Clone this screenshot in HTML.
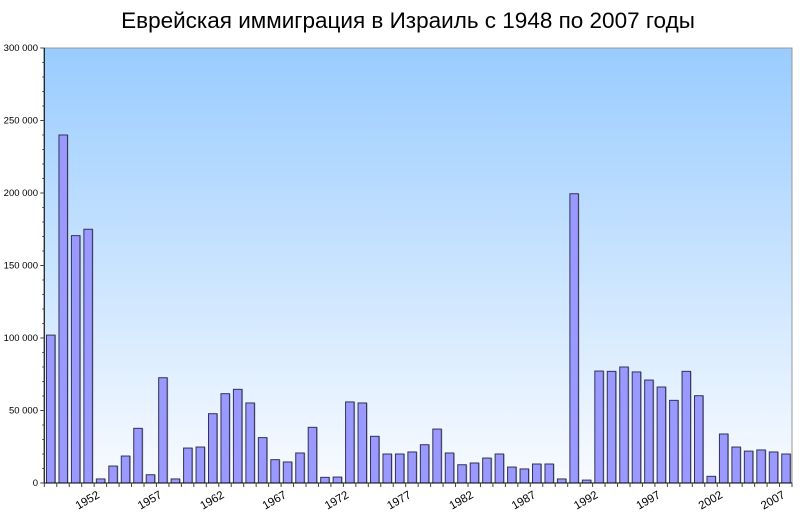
<!DOCTYPE html>
<html><head><meta charset="utf-8"><style>
body{margin:0;background:#fff;width:800px;height:517px;overflow:hidden;font-family:"Liberation Sans","DejaVu Sans",sans-serif}
</style></head><body>
<svg id="chart" width="800" height="517" xmlns="http://www.w3.org/2000/svg">
<defs><linearGradient id="bg" x1="0" y1="0" x2="0" y2="1"><stop offset="0" stop-color="#99ccff"/><stop offset="1" stop-color="#f9fbff"/></linearGradient></defs>
<text x="408" y="28" text-anchor="middle" font-size="22.5" fill="#000">Еврейская иммиграция в Израиль с 1948 по 2007 годы</text>
<rect x="44" y="48" width="748" height="435" fill="url(#bg)" stroke="#999" stroke-width="1"/>
<g id="bars"></g><g id="axes"></g>
</svg>
<script>
const years=[];for(let y=1948;y<=2007;y++)years.push(y);
const values=[102000,240000,170600,175000,2800,11700,18600,37700,5700,72600,2800,24100,24800,47800,61600,64600,55200,31300,16100,14500,20700,38400,3900,4100,55900,55200,32200,20000,20000,21400,26400,37200,20700,12600,13800,17200,20000,11000,9700,13100,13100,2800,199500,2000,77200,77000,80000,76600,71000,66200,57000,77000,60200,4600,33800,24800,22000,22800,21400,20000];
const yTicks=[0,50000,100000,150000,200000,250000,300000];
const yTickLabels=["0","50 000","100 000","150 000","200 000","250 000","300 000"];
const xLabelYears=[1952,1957,1962,1967,1972,1977,1982,1987,1992,1997,2002,2007];
const NS="http://www.w3.org/2000/svg";
const X0=44.3,X1=792,Y0=483,Y1=48,YMAX=300000;
const slot=(X1-X0)/years.length;
const yScale=v=>Y0-(v/YMAX)*(Y0-Y1);
const xScale=i=>X0+i*slot;
function mk(tag,attrs,parent){const e=document.createElementNS(NS,tag);for(const k in attrs)e.setAttribute(k,attrs[k]);parent.appendChild(e);return e;}
const bars=document.getElementById('bars'),axes=document.getElementById('axes');
values.forEach((v,i)=>{
  const x=xScale(i)+2.2,y=yScale(v),h=Y0-y;
  const s=mk('rect',{x:x+1,y:y,width:8.5,height:h,fill:'#a0a0b0'},bars);
  
  
  const r=mk('rect',{x:x,y:y,width:8.5,height:h,fill:'#9999ff',stroke:'#333355','stroke-width':1},bars);
  
  
});
const ya=mk('line',{x1:X0,y1:Y1,x2:X0,y2:Y0,stroke:'#000'},axes);


const xa=mk('line',{x1:X0,y1:Y0,x2:X1,y2:Y0,stroke:'#000'},axes);


for(let v=0;v<=YMAX;v+=10000){mk('line',{x1:X0-(v%50000?2:4),y1:yScale(v),x2:X0,y2:yScale(v),stroke:'#444'},axes);}
yTicks.forEach((v,i)=>{
  const t=mk('text',{x:38,y:yScale(v)+3,'text-anchor':'end','font-size':9.5,fill:'#000'},axes);
  t.textContent=yTickLabels[i];
  
  
});
for(let i=0;i<=years.length;i++){mk('line',{x1:xScale(i),y1:Y0,x2:xScale(i),y2:Y0+4,stroke:'#444'},axes);}
xLabelYears.forEach(yr=>{
  const i=years.indexOf(yr),cx=xScale(i)+slot/2;
  const t=mk('text',{x:cx,y:497,'text-anchor':'end','font-size':11.5,fill:'#000',transform:`rotate(-30 ${cx} 497)`},axes);
  t.textContent=yr;
  
  
});
</script>
</body></html>
